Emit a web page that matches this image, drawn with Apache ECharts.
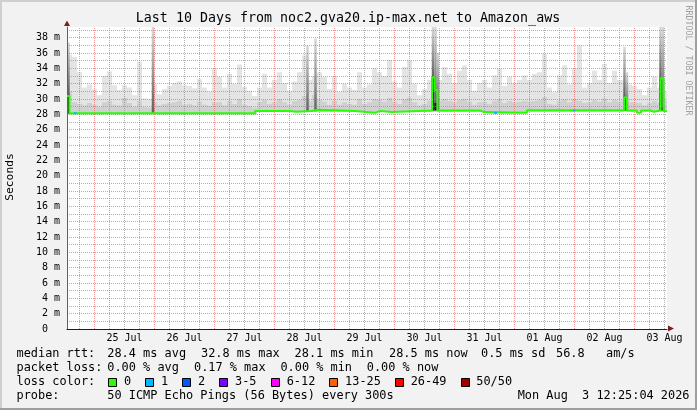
<!DOCTYPE html>
<html><head><meta charset="utf-8">
<script src="https://cdn.jsdelivr.net/npm/echarts@6/dist/echarts.min.js"></script>
<style>html,body{margin:0;padding:0;background:#f2f2f2}#c{width:697px;height:410px}</style>
</head><body><div id="c"></div>
<script>
// time axis: hours relative to 25 Jul 00:00
const START_HOUR = -11, END_HOUR = 229, BIN_HOURS = 2, Y_MAX = 39.4;
const dateLabels = ['25 Jul','26 Jul','27 Jul','28 Jul','29 Jul','30 Jul','31 Jul','01 Aug','02 Aug','03 Aug'];

// smoke envelope per 2h bin (ms)
const smokeTop = [35.8,35.5,33.5,31.5,31.9,31.3,30.5,33.0,33.6,31.8,
  31.2,31.8,31.5,30.5,34.9,30.1,30.0,31.9,30.6,31.3,
  31.7,32.1,32.3,31.8,31.7,31.4,32.6,31.5,31.0,34.0,
  32.9,31.5,33.3,32.0,34.5,31.6,31.1,30.4,31.5,33.3,
  31.5,32.5,33.5,32.1,31.1,32.3,33.5,35.7,32.5,33.0,
  33.5,32.9,31.3,33.0,31.0,32.0,31.5,31.2,33.5,31.5,
  31.9,34.0,33.5,33.0,35.1,32.3,31.5,34.2,35.1,32.0,
  30.5,31.3,32.5,33.0,32.5,34.2,33.3,32.1,33.7,34.4,
  32.5,31.1,32.1,32.5,31.5,33.1,34.0,31.7,32.9,32.1,
  32.5,33.1,32.5,33.3,33.5,35.9,31.5,30.9,33.1,34.4,
  31.9,34.0,37.0,31.5,32.1,33.7,32.5,34.6,32.1,33.7,
  32.5,32.5,31.9,31.7,31.3,30.5,31.5,32.9,31.5,31.0];
const smokeMid = [31.0,29.6,29.4,29.2,29.5,29.3,29.0,29.6,29.8,29.3,
  29.2,30.2,29.5,29.0,29.8,29.0,28.9,29.6,29.2,29.4,
  29.5,29.6,29.8,29.3,29.4,29.2,29.7,29.3,29.1,29.6,
  29.6,29.2,29.8,29.4,30.0,29.3,29.1,28.9,29.6,29.9,
  29.4,29.6,30.0,29.6,29.3,29.8,29.9,30.4,29.8,30.6,
  29.9,29.7,29.3,29.8,29.3,29.6,29.4,29.3,30.0,29.4,
  29.6,30.0,29.9,29.7,30.2,29.7,29.4,30.0,30.2,29.6,
  29.2,29.4,29.8,30.0,29.8,30.0,29.8,29.6,29.9,30.0,
  29.7,29.3,29.6,29.7,29.4,29.8,30.0,29.5,29.8,29.6,
  29.7,29.8,29.7,29.8,29.9,30.3,29.4,29.3,29.8,30.0,
  29.6,30.0,29.8,29.5,29.6,29.9,29.7,30.1,29.6,29.9,
  29.7,30.0,29.6,29.6,29.5,29.2,29.5,29.8,29.5,29.8];
const smokeLow = [
  28.0,28.0,28.0,28.0,28.0,28.0,28.0,28.0,28.0,28.0,
  28.0,28.0,28.0,28.0,28.0,28.0,28.0,28.0,28.0,28.0,
  28.0,28.0,28.0,28.0,28.0,28.0,28.0,28.0,28.0,28.0,
  28.0,28.0,28.0,28.0,28.0,28.0,28.0,28.0,28.3,28.3,
  28.3,28.3,28.3,28.3,28.3,28.3,28.3,28.3,28.3,28.3,
  28.3,28.3,28.3,28.3,28.3,28.3,28.3,28.3,28.3,28.3,
  28.3,28.3,28.3,28.3,28.3,28.3,28.3,28.3,28.3,28.3,
  28.3,28.3,28.3,28.3,28.3,28.3,28.3,28.3,28.3,28.3,
  28.3,28.3,28.3,28.3,28.1,28.1,28.1,28.1,28.1,28.1,
  28.1,28.1,28.35,28.35,28.35,28.35,28.35,28.35,28.35,28.35,
  28.35,28.35,28.35,28.35,28.35,28.35,28.35,28.35,28.35,28.35,
  28.35,28.35,28.35,28.35,28.35,28.35,28.35,28.35,28.35,28.35];

// median rtt step function (hour where value starts, ms)
const medianHours = [-11,-10,64.2,78.2,80.6,87,89.4,104.2,112.2,114.2,119,135,136,137.2,141,141.8,154.2,155.8,156.6,173,211.8,213,217,218.6,222.2,223.8,226.4,227.6];
const medianValues = [30.4,28.15,28.45,28.35,28.45,28.6,28.45,28.2,28.45,28.3,28.5,32.8,31.2,28.5,28.25,28.5,28.3,28.5,28.2,28.55,30.2,28.5,28.2,28.5,28.35,28.5,32.7,28.4];

// short smoke bursts (hour, low, top of dark core, top of smoke)
const spikeHours = [-10.4, 23.4, 85.2, 88.4, 135.4, 136.4, 137.4, 212.0, 213.0, 226.4, 227.4];
const spikeLow   = [28.1, 28.2, 28.4, 28.4, 28.5, 28.5, 28.5, 28.5, 28.5, 28.5, 28.5];
const spikeDark  = [30.5, 28.2, 28.4, 28.4, 32.8, 29.5, 28.5, 30.3, 28.5, 32.7, 29.0];
const spikeHigh  = [37.4, 39.4, 37.0, 37.9, 39.4, 39.4, 36.0, 36.8, 33.5, 39.4, 39.4];

// loss-coloured (1 lost) median segments
const lossStart = [-8.2, 159.8, 191.4];
const lossEnd   = [-7.2, 161.0, 192.4];
const lossValue = [28.15, 28.2, 28.5];

const rttRow  = [['median rtt:',16.5],['28.4 ms avg',107.3],['32.8 ms max',201],['28.1 ms min',294.6],['28.5 ms now',389],['0.5 ms sd',481],['56.8',556],['am/s',606]];
const lossRow = [['packet loss:',16.5],['0.00 % avg',107.3],['0.17 % max',194],['0.00 % min',280.4],['0.00 % now',366.8]];
const lossLabels = ['0','1','2','3-5','6-12','13-25','26-49','50/50'];
const lossColors = ['#26ff00','#00b8ff','#0059ff','#7e00ff','#ff00ff','#ff5e00','#ff0000','#a10000'];
const lossBoxX = [108.3,145.3,182.3,219.3,271,329.4,395,460.6];

const MONO = 'DejaVu Sans Mono';
const LEG_FONT = '11.9px ' + MONO;
const GRID = 'rgba(143,143,143,0.7)';
const MGRID = 'rgba(222,79,79,0.6)';

const binHours = smokeTop.map((_, i) => START_HOUR + BIN_HOURS * i);
const smokeData = smokeTop.map((t, i) => [binHours[i], binHours[i] + BIN_HOURS, smokeLow[i], smokeMid[i], t]);
const spikeData = spikeHours.map((h, i) => [h, spikeLow[i], spikeDark[i], spikeHigh[i]]);

const medianData = medianHours.map((h, i) => [h, medianValues[i]]);
medianData.push([END_HOUR, medianValues[medianValues.length - 1]]);

const gridLines = [];
for (let h = -6; h < END_HOUR; h += 6) {
  gridLines.push({ xAxis: h, lineStyle: { color: (h % 24 === 0) ? MGRID : GRID, type: [1, 1], width: 1 } });
}
const noonHours = dateLabels.map((_, i) => 12 + 24 * i);

const spikeGrad = () => new echarts.graphic.LinearGradient(0, 0, 0, 1, [{ offset: 0, color: '#d8d8d8' }, { offset: 1, color: '#606060' }]);

const series = [
  { type: 'custom', data: smokeData, encode: { x: [0, 1], y: [2, 3, 4] }, z: 2, silent: true, clip: true,
    renderItem: (params, api) => {
      const pLow = api.coord([api.value(0), api.value(2)]);
      const pMid = api.coord([api.value(1), api.value(3)]);
      const pTop = api.coord([api.value(1), api.value(4)]);
      const w = pMid[0] - pLow[0];
      return { type: 'group', children: [
        { type: 'rect', shape: { x: pLow[0], y: pTop[1], width: w, height: pMid[1] - pTop[1] }, style: { fill: '#e4e4e4' } },
        { type: 'rect', shape: { x: pLow[0], y: pMid[1], width: w, height: pLow[1] - pMid[1] }, style: { fill: '#d0d0d0' } }
      ] };
    } },
  { type: 'custom', data: spikeData, encode: { x: 0, y: [1, 2, 3] }, z: 2, silent: true, clip: true,
    renderItem: (params, api) => {
      const h = api.value(0);
      const pLow = api.coord([h - 0.5, api.value(1)]);
      const pDark = api.coord([h + 0.5, api.value(2)]);
      const pHigh = api.coord([h + 0.5, api.value(3)]);
      const w = pDark[0] - pLow[0];
      return { type: 'group', children: [
        { type: 'rect', shape: { x: pLow[0], y: pHigh[1], width: w, height: pDark[1] - pHigh[1] }, style: { fill: spikeGrad() } },
        { type: 'rect', shape: { x: pLow[0], y: pDark[1], width: w, height: pLow[1] - pDark[1] }, style: { fill: '#1a1a1a' } }
      ] };
    } },
  { type: 'line', data: [[START_HOUR, 0]], showSymbol: false, lineStyle: { opacity: 0 }, z: 3, silent: true,
    markLine: { silent: true, symbol: ['none', 'none'], label: { show: false }, animation: false, z: 3, data: gridLines } },
  { type: 'line', step: 'end', data: medianData, showSymbol: false, lineStyle: { color: '#26ff00', width: 2 }, z: 4, silent: true }
];
lossStart.forEach((s, i) => {
  series.push({ type: 'line', data: [[s, lossValue[i]], [lossEnd[i], lossValue[i]]], showSymbol: false, lineStyle: { color: '#00b8ff', width: 2 }, z: 5, silent: true });
});

const txt = (t, x, y, extra) => ({ type: 'text', x: x, y: y, style: Object.assign({ text: t, font: LEG_FONT, fill: '#000', textVerticalAlign: 'middle' }, extra || {}) });
const graphics = [
  { type: 'rect', shape: { x: 0, y: 0, width: 697, height: 2 }, style: { fill: '#cfcfcf' } },
  { type: 'rect', shape: { x: 0, y: 0, width: 2, height: 410 }, style: { fill: '#cfcfcf' } },
  { type: 'rect', shape: { x: 695, y: 0, width: 2, height: 410 }, style: { fill: '#9e9e9e' } },
  { type: 'rect', shape: { x: 0, y: 408, width: 697, height: 2 }, style: { fill: '#9e9e9e' } },
  { type: 'text', x: 348, y: 19, style: { text: 'Last 10 Days from noc2.gva20.ip-max.net to Amazon_aws', font: '13.3px ' + MONO, fill: '#000', textAlign: 'center', textVerticalAlign: 'middle' } },
  { type: 'text', x: 10, y: 177, rotation: Math.PI / 2, style: { text: 'Seconds', font: '11.3px ' + MONO, fill: '#000', textAlign: 'center', textVerticalAlign: 'middle' } },
  { type: 'text', x: 688, y: 60.5, rotation: -Math.PI / 2, style: { text: 'RRDTOOL / TOBI OETIKER', font: '8.3px ' + MONO, fill: '#a0a0a0', textAlign: 'center', textVerticalAlign: 'middle' } },
  { type: 'polygon', shape: { points: [[668, 325.5], [674, 328.5], [668, 331.5]] }, style: { fill: '#801f1f' }, z: 10 },
  { type: 'polygon', shape: { points: [[64, 26], [67, 20.5], [70, 26]] }, style: { fill: '#801f1f' }, z: 10 },
  txt('probe:', 16.5, 396),
  txt('50 ICMP Echo Pings (56 Bytes) every 300s', 107.3, 396),
  txt('Mon Aug  3 12:25:04 2026', 689.5, 396, { textAlign: 'right' }),
  txt('loss color:', 16.5, 382.3)
];
rttRow.forEach(([t, x]) => graphics.push(txt(t, x, 354.3)));
lossRow.forEach(([t, x]) => graphics.push(txt(t, x, 368.3)));
lossLabels.forEach((t, i) => {
  graphics.push({ type: 'rect', shape: { x: Math.round(lossBoxX[i]) + 0.5, y: 378.5, width: 8, height: 8 }, style: { fill: lossColors[i], stroke: '#000', lineWidth: 1 } });
  graphics.push(txt(t, lossBoxX[i] + 15.7, 382.3));
});

const chart = echarts.init(document.getElementById('c'));
chart.setOption({
  animation: false,
  backgroundColor: '#f2f2f2',
  grid: { left: 67, top: 27, width: 600, height: 302, show: true, backgroundColor: '#ffffff', borderWidth: 0 },
  xAxis: {
    type: 'value', min: START_HOUR, max: END_HOUR,
    axisLine: { show: true, onZero: false, lineStyle: { color: '#1f1f1f', width: 1 } },
    axisTick: { show: false }, splitLine: { show: false },
    axisLabel: {
      customValues: noonHours, margin: 4,
      formatter: v => dateLabels[Math.round((v - 12) / 24)] || '',
      fontFamily: MONO, fontSize: 10, color: '#000'
    },
    z: 3
  },
  yAxis: {
    type: 'value', min: 0, max: Y_MAX, interval: 1,
    axisLine: { show: true, onZero: false, lineStyle: { color: '#606060' } },
    axisTick: { show: false },
    axisLabel: {
      margin: 7, fontFamily: MONO, fontSize: 10, color: '#000',
      formatter: v => (Math.round(v) === v && v % 2 === 0 && v <= 38) ? (v === 0 ? '0  ' : v + ' m') : ''
    },
    splitLine: { show: true, showMaxLine: false, lineStyle: { color: [MGRID, GRID], type: [1, 1], width: 1 } },
    z: 3
  },
  series: series,
  graphic: graphics
});
</script></body></html>
